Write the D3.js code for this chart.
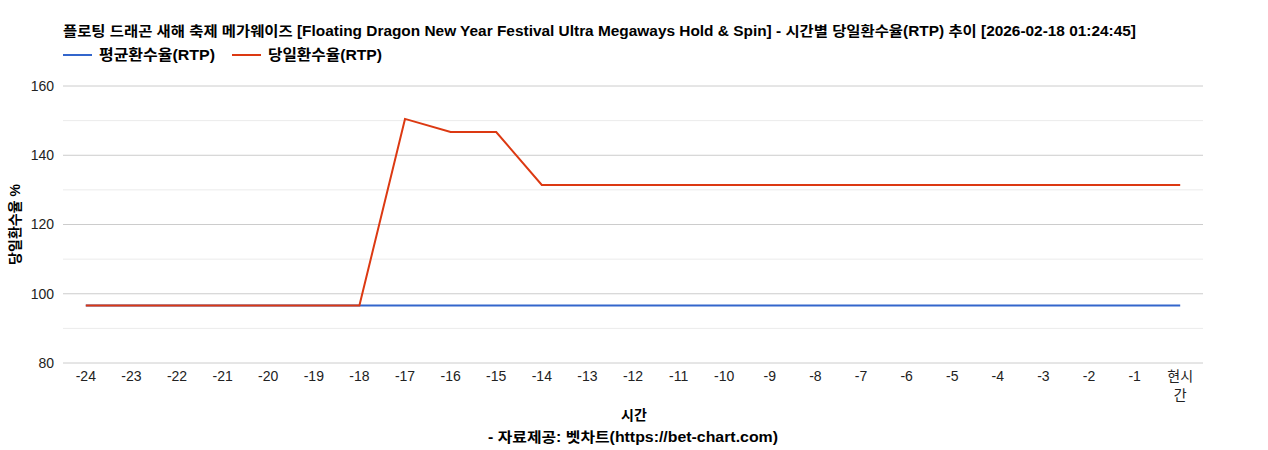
<!DOCTYPE html>
<html>
<head>
<meta charset="utf-8">
<script src="https://cdn.jsdelivr.net/npm/d3@7"></script>
<style>
  body { margin: 0; background: #fff; }
  text { font-family: Arial, "Liberation Sans", "Noto Sans CJK KR", sans-serif; }
</style>
</head>
<body>
<svg id="chart" width="1268" height="450"></svg>
<script>
// data
const hours = ['-24','-23','-22','-21','-20','-19','-18','-17','-16','-15','-14','-13','-12','-11','-10','-9','-8','-7','-6','-5','-4','-3','-2','-1','현시간']
const avgRtp = [96.6,96.6,96.6,96.6,96.6,96.6,96.6,96.6,96.6,96.6,96.6,96.6,96.6,96.6,96.6,96.6,96.6,96.6,96.6,96.6,96.6,96.6,96.6,96.6,96.6]
const dayRtp = [96.6,96.6,96.6,96.6,96.6,96.6,96.6,150.5,146.7,146.7,131.4,131.4,131.4,131.4,131.4,131.4,131.4,131.4,131.4,131.4,131.4,131.4,131.4,131.4,131.4]
const yTicks = [80, 100, 120, 140, 160]
const yMinor = [90, 110, 130, 150]
const seriesNames = ['평균환수율(RTP)', '당일환수율(RTP)']
const colors = ['#3366cc', '#dc3912']

const title = '플로팅 드래곤 새해 축제 메가웨이즈 [Floating Dragon New Year Festival Ultra Megaways Hold & Spin] - 시간별 당일환수율(RTP) 추이 [2026-02-18 01:24:45]'

const margin = {top: 86, right: 65, bottom: 87, left: 63}
const fullWidth = 1268
const fullHeight = 450
const width = fullWidth - margin.left - margin.right
const height = fullHeight - margin.top - margin.bottom

const svg = d3.select('#chart')

// title
svg.append('text')
  .attr('x', 63)
  .attr('y', 36)
  .attr('font-size', 14)
  .attr('font-weight', 'bold')
  .attr('font-family', '"DejaVu Sans", "Noto Sans CJK KR", sans-serif')
  .attr('textLength', 1073)
  .attr('lengthAdjust', 'spacingAndGlyphs')
  .text(title)

// legend
const legendX = [63, 232]
const legendW = [116, 114]
seriesNames.forEach(function (name, i) {
  const lg = svg.append('g').attr('transform', 'translate(' + legendX[i] + ',55)')
  lg.append('line').attr('x1', 0).attr('x2', 29).attr('y1', 0).attr('y2', 0)
    .attr('stroke', colors[i]).attr('stroke-width', 2)
  lg.append('text').attr('x', 36).attr('y', 5)
    .attr('font-size', 15).attr('font-weight', 'bold')
    .attr('textLength', legendW[i]).attr('lengthAdjust', 'spacingAndGlyphs')
    .text(name)
})

const g = svg.append('g')
  .attr('transform', 'translate(' + margin.left + ',' + margin.top + ')')

const x = d3.scaleBand().domain(hours).range([0, width])
const y = d3.scaleLinear().domain([80, 160]).range([height, 0])

// gridlines
g.selectAll('.minor').data(yMinor).join('line')
  .attr('x1', 0).attr('x2', width)
  .attr('y1', function (d) { return y(d) }).attr('y2', function (d) { return y(d) })
  .attr('stroke', '#ebebeb').attr('stroke-width', 1)
g.selectAll('.major').data(yTicks).join('line')
  .attr('x1', 0).attr('x2', width)
  .attr('y1', function (d) { return y(d) }).attr('y2', function (d) { return y(d) })
  .attr('stroke', '#cccccc')
  .attr('stroke-width', 1)

// y axis
const yAxis = d3.axisLeft(y).tickValues(yTicks).tickSize(0).tickPadding(9)
g.append('g').call(yAxis)
  .call(function (s) { s.select('.domain').remove() })
  .selectAll('text').attr('font-size', 14).attr('fill', '#222')
  .attr('font-family', 'Arial, "Liberation Sans", sans-serif')

// x axis
const xAxis = d3.axisBottom(x).tickSize(0).tickPadding(8)
const xa = g.append('g').attr('transform', 'translate(0,' + height + ')').call(xAxis)
xa.select('.domain').remove()
xa.selectAll('text').attr('font-size', 14).attr('fill', '#222')
  .attr('font-family', 'Arial, "Liberation Sans", "Noto Sans CJK KR", sans-serif')
  .each(function (d) {
    // the last label is wrapped onto two lines
    if (!/^-?\d+$/.test(d)) {
      const t = d3.select(this)
      t.text(null)
      t.append('tspan').attr('x', 0).attr('dy', '0.71em').text(d.slice(0, 2))
      t.append('tspan').attr('x', 0).attr('dy', '1.35em').text(d.slice(2))
      t.attr('dy', null)
    }
  })

// axis titles
svg.append('text')
  .attr('x', 634).attr('y', 420)
  .attr('text-anchor', 'middle')
  .attr('font-size', 14).attr('font-weight', 'bold')
  .text('시간')
svg.append('text')
  .attr('x', 633).attr('y', 442)
  .attr('text-anchor', 'middle')
  .attr('font-size', 14).attr('font-weight', 'bold')
  .attr('textLength', 290).attr('lengthAdjust', 'spacingAndGlyphs')
  .text('- 자료제공: 벳차트(https://bet-chart.com)')
svg.append('text')
  .attr('transform', 'translate(20,' + (margin.top + height / 2) + ') rotate(-90)')
  .attr('text-anchor', 'middle')
  .attr('font-size', 14).attr('font-weight', 'bold')
  .text('당일환수율 %')

// lines
const line = d3.line()
  .x(function (d, i) { return x(hours[i]) + x.bandwidth() / 2 })
  .y(function (d) { return y(d) })

g.selectAll('.series').data([avgRtp, dayRtp]).join('path')
  .attr('d', line)
  .attr('fill', 'none')
  .attr('stroke', function (d, i) { return colors[i] })
  .attr('stroke-width', 2)
</script>
</body>
</html>
